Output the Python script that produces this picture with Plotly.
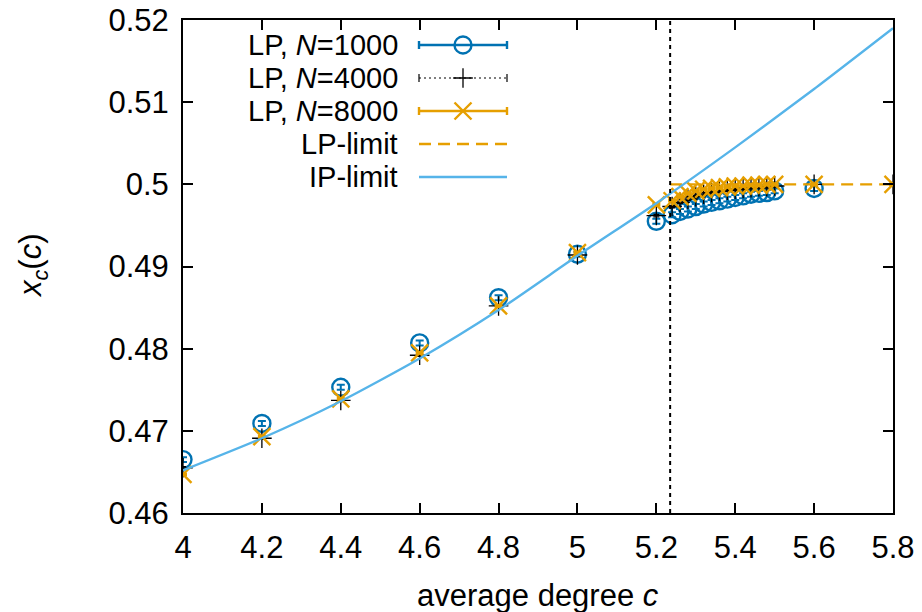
import plotly.graph_objects as go

# ---------------- data ----------------
c_main = [4.0, 4.2, 4.4, 4.6, 4.8, 5.0, 5.2]
c_cluster = [5.24, 5.26, 5.28, 5.30, 5.32, 5.34, 5.36, 5.38, 5.40, 5.42, 5.44, 5.46, 5.48, 5.50]

c_n1000 = c_main + c_cluster + [5.6]
x_n1000 = [0.4665, 0.4709, 0.4753, 0.4807, 0.4862, 0.4915, 0.4955,
           0.4963, 0.4967, 0.4970, 0.4973, 0.4976, 0.4978, 0.4980,
           0.4982, 0.4984, 0.4986, 0.4988, 0.4989, 0.4990, 0.4992,
           0.4995]
e_n1000 = [0.0003] * len(x_n1000)

c_n4000 = c_main + c_cluster + [5.6, 5.8]
x_n4000 = [0.4655, 0.4691, 0.4737, 0.4792, 0.4852, 0.4914, 0.4962,
           0.4973, 0.4978, 0.4982, 0.4985, 0.4988, 0.4990, 0.4992,
           0.4993, 0.4994, 0.4995, 0.4996, 0.4997, 0.4997, 0.4998,
           0.5000, 0.5000]
e_n4000 = [0.00015] * len(x_n4000)

c_n8000 = c_main + c_cluster + [5.6, 5.8]
x_n8000 = [0.4647, 0.4693, 0.4739, 0.4795, 0.4852, 0.4917, 0.4975,
           0.4980, 0.4985, 0.4989, 0.4992, 0.4994, 0.4995, 0.4996,
           0.4997, 0.4998, 0.4998, 0.4999, 0.4999, 0.5000, 0.5000,
           0.5000, 0.5000]
e_n8000 = [0.0001] * len(x_n8000)

c_lp_limit = [5.235, 5.8]
x_lp_limit = [0.5, 0.5]

c_ip_limit = [4.0, 4.2, 4.4, 4.6, 4.8, 5.0, 5.2, 5.4, 5.6, 5.8]
x_ip_limit = [0.4652, 0.4691, 0.4736, 0.4788, 0.4847, 0.4913, 0.4977, 0.5045, 0.5116, 0.5190]

c_critical = 5.235

x_ticks = [4.0, 4.2, 4.4, 4.6, 4.8, 5.0, 5.2, 5.4, 5.6, 5.8]
x_ticktext = ["4", "4.2", "4.4", "4.6", "4.8", "5", "5.2", "5.4", "5.6", "5.8"]
y_ticks = [0.46, 0.47, 0.48, 0.49, 0.50, 0.51, 0.52]
y_ticktext = ["0.46", "0.47", "0.48", "0.49", "0.5", "0.51", "0.52"]

legend_labels = ["LP, <i>N</i>=1000", "LP, <i>N</i>=4000", "LP, <i>N</i>=8000", "LP-limit", "IP-limit"]
x_title = "average degree <i>c</i>"
y_title = "<i>x</i><sub><i>c</i></sub>(<i>c</i>)"

# ---------------- style ----------------
BLUE = "#0072B2"
ORANGE = "#E69F00"
SKY = "#56B4E9"
FONT = "Liberation Sans, Arial, sans-serif"
FS = 31
FS_LEG = 29

fig = go.Figure()

fig.add_trace(go.Scatter(
    x=c_n1000, y=x_n1000, mode="markers",
    marker=dict(symbol="circle-open", size=17, color=BLUE, line=dict(width=2.4, color=BLUE)),
    error_y=dict(type="data", array=e_n1000, color=BLUE, thickness=2, width=4),
    showlegend=False))
fig.add_trace(go.Scatter(
    x=c_n4000, y=x_n4000, mode="markers",
    marker=dict(symbol="cross-thin-open", size=14, color="black", line=dict(width=1.3, color="black")),
    error_y=dict(type="data", array=e_n4000, color="black", thickness=1.3, width=3),
    showlegend=False))
fig.add_trace(go.Scatter(
    x=c_n8000, y=x_n8000, mode="markers",
    marker=dict(symbol="x-thin-open", size=17, color=ORANGE, line=dict(width=2.4, color=ORANGE)),
    error_y=dict(type="data", array=e_n8000, color=ORANGE, thickness=2, width=4),
    showlegend=False))
fig.add_trace(go.Scatter(
    x=c_lp_limit, y=x_lp_limit, mode="lines",
    line=dict(color=ORANGE, width=2.4, dash="12px,7px"), showlegend=False))
fig.add_trace(go.Scatter(
    x=c_ip_limit, y=x_ip_limit, mode="lines",
    line=dict(color=SKY, width=2.4, shape="spline", smoothing=0.6), showlegend=False))

# vertical critical line
fig.add_shape(type="line", xref="x", yref="paper", x0=c_critical, x1=c_critical, y0=0, y1=1,
              line=dict(color="black", width=2, dash="4px,4px"))

# ---------------- layout geometry ----------------
L, R, T, B = 183, 29, 20, 99
W, H = 922, 612
pw, ph = W - L - R, H - T - B


def fx(px):
    return (px - L) / pw


def fy(py):
    return (H - B - py) / ph


# axis titles as annotations
fig.add_annotation(x=fx(538), y=fy(595), xref="paper", yref="paper", text=x_title, showarrow=False,
                   xanchor="center", yanchor="middle", font=dict(family=FONT, size=FS, color="black"))
fig.add_annotation(x=fx(33), y=fy(266), xref="paper", yref="paper", text=y_title, showarrow=False,
                   textangle=-90, xanchor="center", yanchor="middle",
                   font=dict(family=FONT, size=FS, color="black"))

# ---------------- custom legend ----------------
rows = [45, 78, 111, 144, 177]
text_right = 399
s0, s1, smid = 419, 507, 463
for lab, py in zip(legend_labels, rows):
    fig.add_annotation(x=fx(text_right), y=fy(py), xref="paper", yref="paper",
                       text=lab, showarrow=False, xanchor="right", yanchor="middle",
                       borderpad=0,
                       font=dict(family=FONT, size=FS_LEG, color="black"))

styles = [
    dict(color=BLUE, width=2.4, dash="solid"),
    dict(color="black", width=1.2, dash="2px,3px"),
    dict(color=ORANGE, width=2.4, dash="solid"),
]
for st, py in zip(styles, rows[:3]):
    fig.add_shape(type="line", xref="paper", yref="paper", x0=fx(s0), x1=fx(s1), y0=fy(py), y1=fy(py),
                  line=st)
    for ex in (s0, s1):
        fig.add_shape(type="line", xref="paper", yref="paper", x0=fx(ex), x1=fx(ex),
                      y0=fy(py - 4), y1=fy(py + 4), line=dict(color=st["color"], width=st["width"]))
fig.add_shape(type="line", xref="paper", yref="paper", x0=fx(s0), x1=fx(s1), y0=fy(rows[3]), y1=fy(rows[3]),
              line=dict(color=ORANGE, width=2.4, dash="12px,7px"))
fig.add_shape(type="line", xref="paper", yref="paper", x0=fx(s0), x1=fx(s1), y0=fy(rows[4]), y1=fy(rows[4]),
              line=dict(color=SKY, width=2.4))

leg_sym = [("circle-open", 17, BLUE, 2.4), ("cross-thin-open", 14, "black", 1.3), ("x-thin-open", 17, ORANGE, 2.4)]
for (sym, sz, col, lw), py in zip(leg_sym, rows[:3]):
    fig.add_trace(go.Scatter(x=[fx(smid)], y=[fy(py)], xaxis="x2", yaxis="y2", mode="markers",
                             marker=dict(symbol=sym, size=sz, color=col, line=dict(width=lw, color=col)),
                             showlegend=False, hoverinfo="skip"))

axis_common = dict(showline=True, linecolor="black", linewidth=2, mirror="ticks",
                   ticks="inside", ticklen=10, tickwidth=2, tickcolor="black",
                   showgrid=False, zeroline=False,
                   tickfont=dict(family=FONT, size=FS, color="black"))

fig.update_layout(
    width=W, height=H,
    margin=dict(l=L, r=R, t=T, b=B, autoexpand=False),
    paper_bgcolor="white", plot_bgcolor="white",
    showlegend=False,
    xaxis=dict(range=[4.0, 5.8], tickvals=x_ticks, ticktext=x_ticktext, ticklabelstandoff=6,
               **axis_common),
    yaxis=dict(range=[0.46, 0.52], tickvals=y_ticks, ticktext=y_ticktext, ticklabelstandoff=6,
               **axis_common),
    xaxis2=dict(range=[0, 1], overlaying="x", visible=False),
    yaxis2=dict(range=[0, 1], overlaying="y", visible=False),
)

fig.write_html("out.html", config={"displayModeBar": False},
               post_script="document.body.style.margin='0';")
